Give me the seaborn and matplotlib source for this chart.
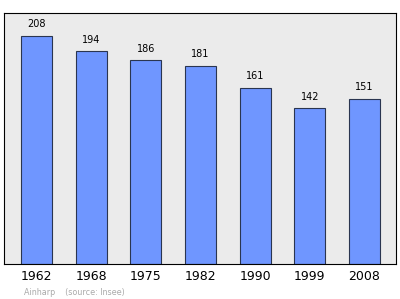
import matplotlib
matplotlib.use("Agg")
import matplotlib.pyplot as plt
import seaborn as sns
import pandas as pd

years = ["1962", "1968", "1975", "1982", "1990", "1999", "2008"]
population = [208, 194, 186, 181, 161, 142, 151]

sns.set_theme(style="white")
plt.rcParams['font.family'] = ['DejaVu Sans']

df = pd.DataFrame({"year": years, "pop": population})

fig = plt.figure(figsize=(4.0, 2.99), dpi=100)
ax = fig.add_axes([0.01, 0.117, 0.98, 0.8395])
ax.set_facecolor("#ebebeb")

sns.barplot(data=df, x="year", y="pop", color="#6f96ff", saturation=1,
            width=0.57, edgecolor="#2a3550", linewidth=0.8, ax=ax)

for i, v in enumerate(population):
    ax.text(i, v + 6, str(v), ha="center", va="bottom", fontsize=7, color="black")

ax.set_xlim(-0.594, 6.576)
ax.set_ylim(0, 229)
ax.set_yticks([])
ax.set_xlabel("")
ax.set_ylabel("")
ax.tick_params(axis="x", length=0, labelsize=9, pad=4, colors="black")
for s in ax.spines.values():
    s.set_color("black")
    s.set_linewidth(0.8)
    s.set_visible(True)

fig.text(0.06, 0.012, "Ainharp    (source: Insee)", fontsize=5.8, color="#aaaaaa")

fig.savefig("out.png", dpi=100)
